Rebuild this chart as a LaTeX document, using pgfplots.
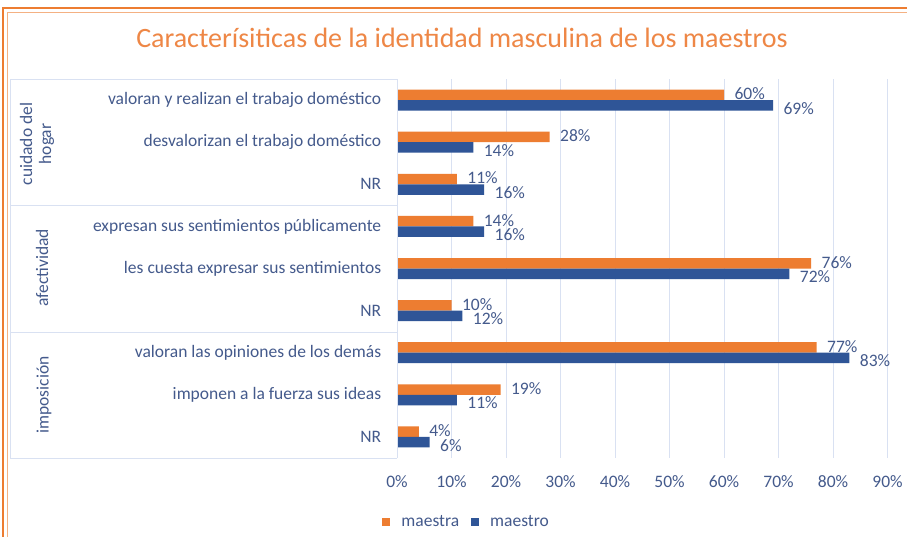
\documentclass[border=0pt]{standalone}
\usepackage{pgfplots}
\pgfplotsset{compat=1.18}
\usepackage{fontspec}
\setmainfont{Carlito}
\definecolor{orng}{RGB}{237,125,49}
\definecolor{blu}{RGB}{47,85,151}
\definecolor{txt}{RGB}{68,90,140}
\definecolor{grd}{RGB}{217,225,242}
\definecolor{ttl}{RGB}{238,135,70}
\begin{document}
\begin{tikzpicture}[x=1pt,y=1pt]
\useasboundingbox (0,0) rectangle (907,537);
\fill[white] (0,0) rectangle (907,537);
\draw[orng, line width=1.2pt] (3,0) -- (3,529) -- (907,529);
\draw[orng!60, line width=0.8pt] (7,0) -- (7,525) -- (907,525);
\node[ttl, font=\fontsize{28}{32}\selectfont] at (462,499) {Caracterísiticas de la identidad masculina de los maestros};
\begin{axis}[
  at={(397pt,79pt)}, anchor=south west,
  width=490.5pt, height=379pt, scale only axis,
  xmin=0, xmax=90, ymin=-0.5, ymax=8.5,
  xtick={0,10,...,90},
  xticklabel={\pgfmathprintnumber[assume math mode=true]{\tick}\%},
  ytick={0,...,8},
  yticklabels={NR, imponen a la fuerza sus ideas, valoran las opiniones de los demás, NR, les cuesta expresar sus sentimientos, expresan sus sentimientos públicamente, NR, desvalorizan el trabajo doméstico, valoran y realizan el trabajo doméstico},
  ticklabel style={font=\fontsize{17.5}{20}\selectfont, text=txt},
  yticklabel style={xshift=-8pt},
  xticklabel style={yshift=-14pt},
  tick style={draw=none},
  axis line style={draw=none},
  xmajorgrids, grid style={grd, line width=0.8pt},
  xbar, bar width=10.5pt,
  nodes near coords={\pgfmathprintnumber[assume math mode=true]{\pgfplotspointmeta}\%},
  nodes near coords style={font=\fontsize{17.5}{20}\selectfont, text=txt, anchor=west, xshift=7pt},
  point meta=x,
  legend style={at={(0.141,-0.169)}, anchor=center, draw=none, font=\fontsize{17.5}{20}\selectfont, text=txt, legend columns=2, column sep=10pt, nodes={inner sep=1.5pt}},
  legend image code/.code={\fill[#1] (0pt,-4pt) rectangle (8pt,4pt);},
  clip=false,
]
\addplot[fill=orng, draw=none, bar shift=5.25pt, nodes near coords style={yshift=1pt}] coordinates {
 (60,8) (28,7) (11,6) (14,5) (76,4) (10,3) (77,2) (19,1) (4,0)};
\addplot[fill=blu, draw=none, bar shift=-5.25pt, nodes near coords style={yshift=-3pt}] coordinates {
 (69,8) (14,7) (16,6) (16,5) (72,4) (12,3) (83,2) (11,1) (6,0)};
\legend{maestra, maestro}
\end{axis}
\draw[grd, line width=0.8pt] (10,458) -- (397,458);
\draw[grd, line width=0.8pt] (10,332) -- (397,332);
\draw[grd, line width=0.8pt] (10,205) -- (397,205);
\draw[grd, line width=0.8pt] (10,79) -- (397,79);
\draw[grd, line width=0.8pt] (10,79) -- (10,458);
\draw[grd, line width=0.8pt] (397,79) -- (397,458);
\node[rotate=90, text=txt, font=\fontsize{17.5}{19}\selectfont, align=center] at (37,393) {cuidado del\\hogar};
\node[rotate=90, text=txt, font=\fontsize{17.5}{19}\selectfont] at (42,269) {afectividad};
\node[rotate=90, text=txt, font=\fontsize{17.5}{19}\selectfont] at (44,142) {imposición};
\end{tikzpicture}
\end{document}
